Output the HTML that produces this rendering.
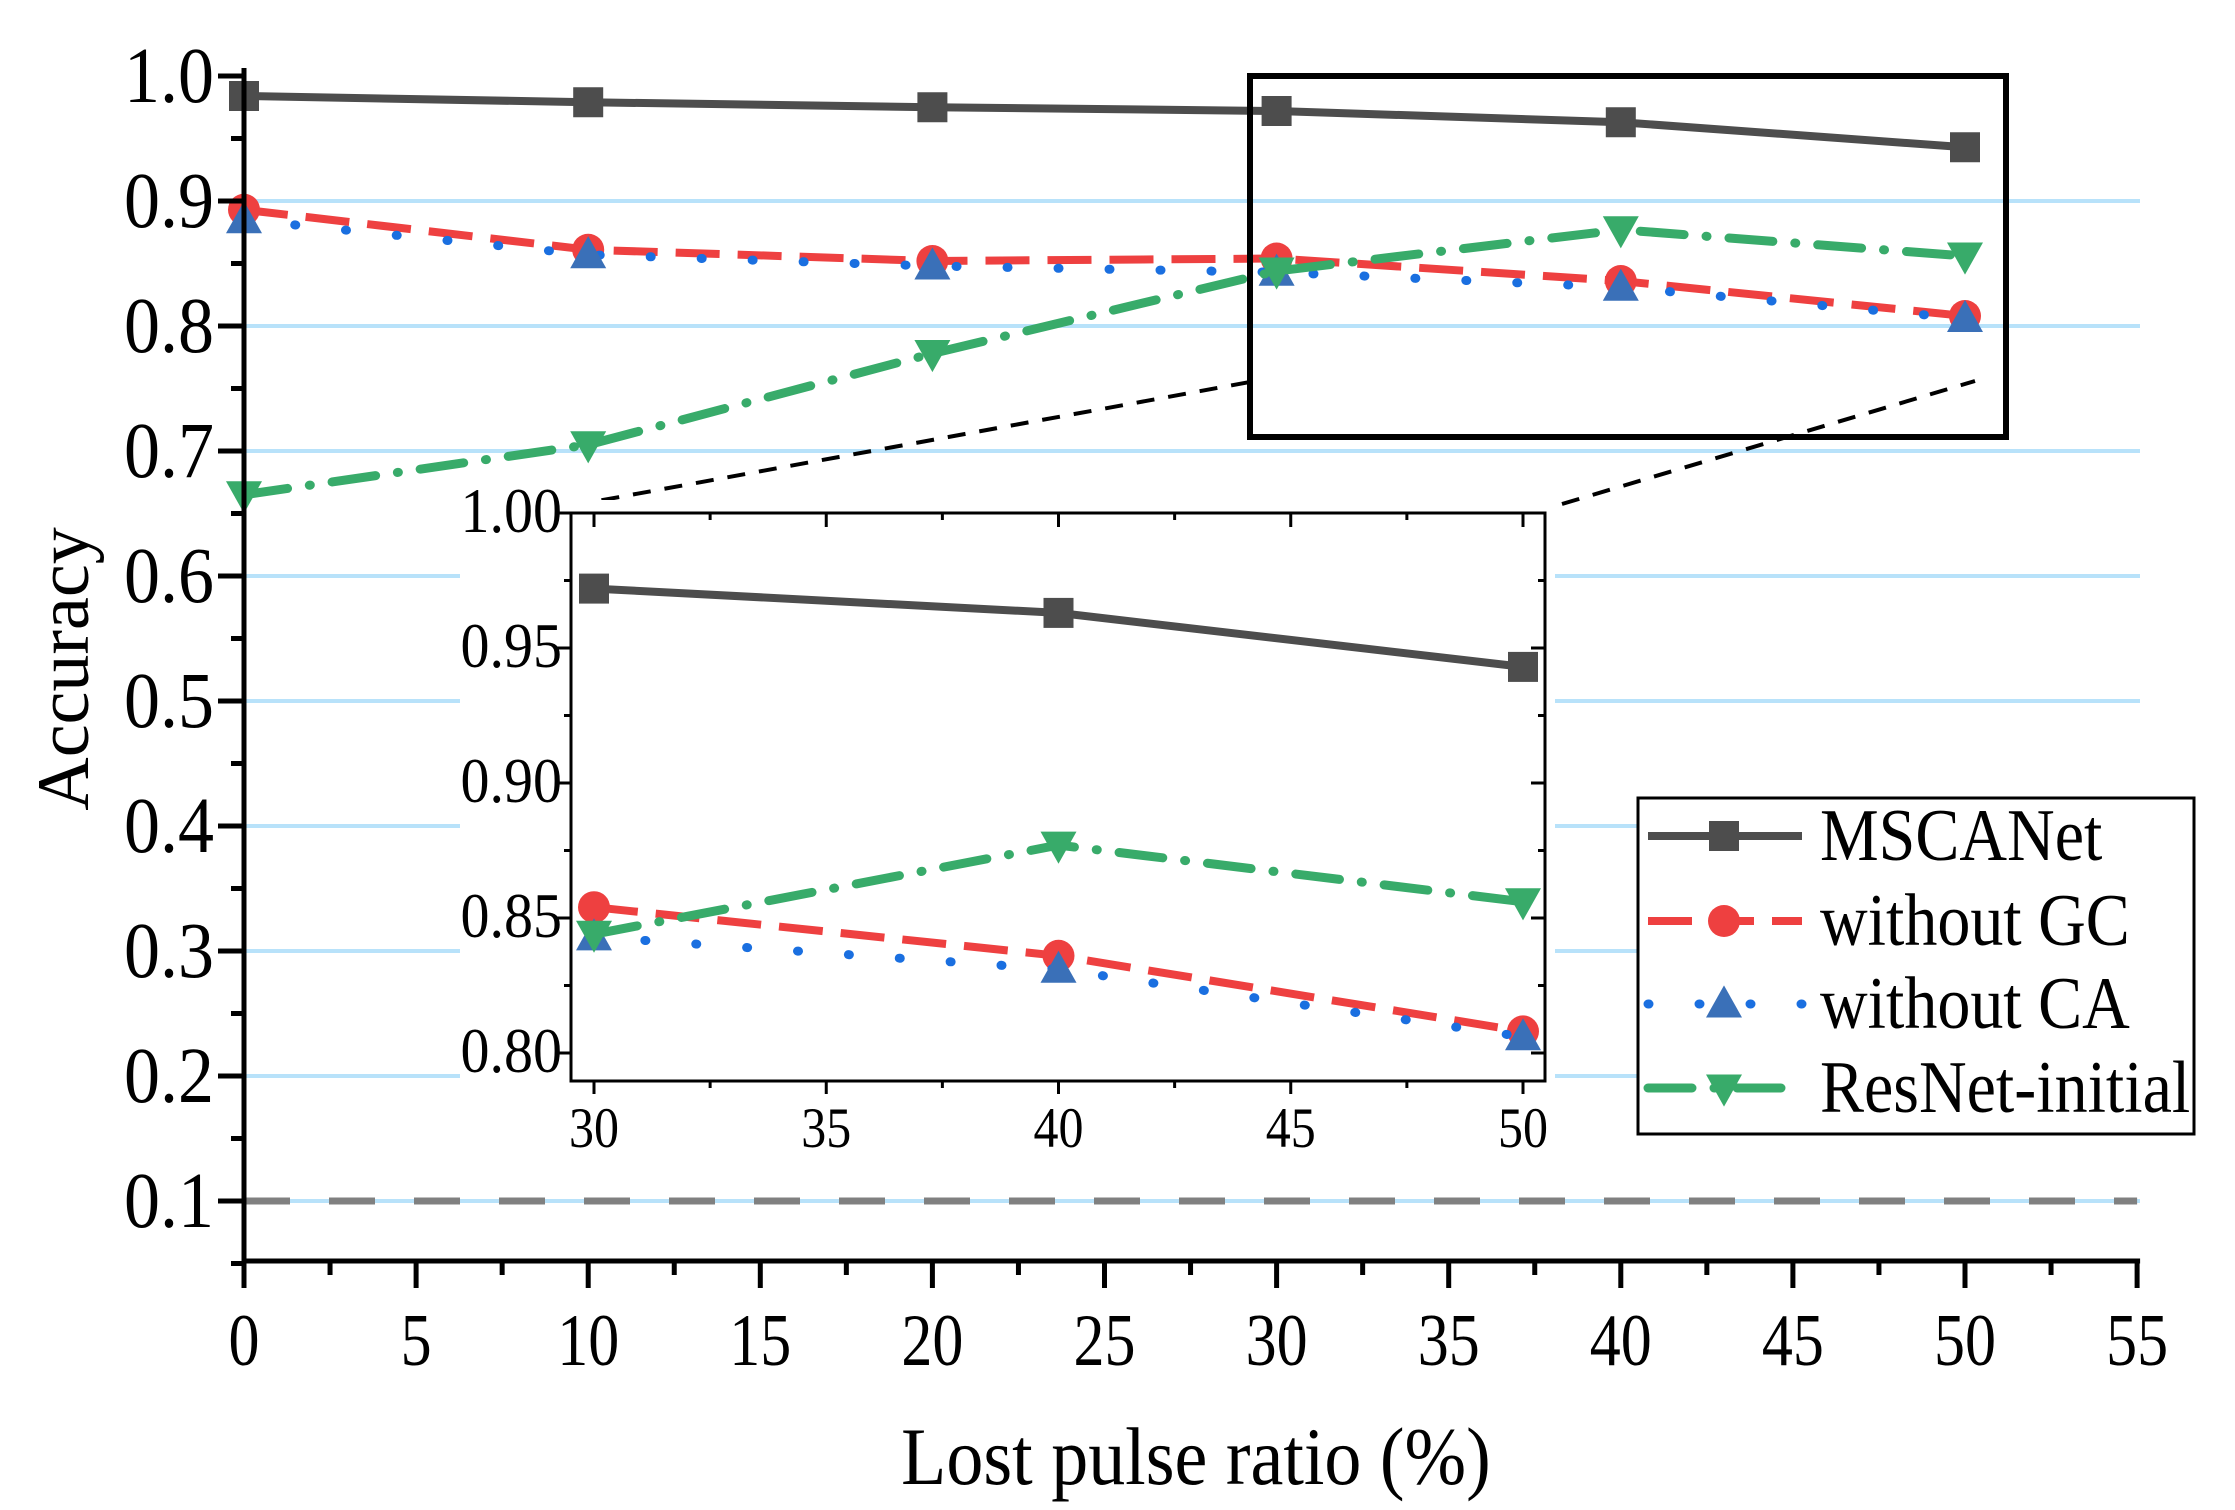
<!DOCTYPE html>
<html><head><meta charset="utf-8"><style>
html,body{margin:0;padding:0;background:#fff}
svg{display:block;font-family:"Liberation Serif",serif}
</style></head><body>
<svg id="chart" width="2235" height="1510" viewBox="0 0 2235 1510" xmlns="http://www.w3.org/2000/svg">
<g id="main-grid"></g><g id="main"></g><g id="inset"></g><g id="legend"></g>
</svg>
<script>
const xCats=[0,10,20,30,40,50];
const mscanet=[0.984,0.979,0.975,0.972,0.963,0.943];
const withoutGC=[0.893,0.861,0.852,0.854,0.836,0.808];
const withoutCA=[0.885,0.857,0.848,0.843,0.831,0.806];
const resnet=[0.665,0.705,0.778,0.844,0.877,0.856];
const xTicks=[0,5,10,15,20,25,30,35,40,45,50,55];
const yTicks=[0.1,0.2,0.3,0.4,0.5,0.6,0.7,0.8,0.9,1.0];
const insetXTicks=[30,35,40,45,50];
const insetYTicks=[0.80,0.85,0.90,0.95,1.00];
const baseline=[0.1];

const NS="http://www.w3.org/2000/svg";
function el(tag,attrs,parent,text){const e=document.createElementNS(NS,tag);for(const k in attrs)e.setAttribute(k,attrs[k]);if(text!==undefined)e.textContent=text;parent.appendChild(e);return e;}
const X=v=>244+(v-0)*34.42;
const Y=v=>76+(1-v)*1250;
const IX=v=>594+(v-30)*46.45;
const IY=v=>513+(1-v)*2700;
function stext(parent,x,y,size,sy,anchor,str){
  return el('text',{x:0,y:0,'text-anchor':anchor,'font-size':size,transform:`translate(${x},${y}) scale(1,${sy})`},parent,str);
}

const grid=document.getElementById('main-grid');
const main=document.getElementById('main');
const inset=document.getElementById('inset');
const leg=document.getElementById('legend');

yTicks.forEach(v=>{ if(v>=1)return;
  const g=el('line',{x1:X(0),x2:2140,y1:Y(v),y2:Y(v),stroke:'#b8e2fa','stroke-width':4},grid);
  
  
});
baseline.forEach(v=>{
  const b=el('line',{x1:X(0),x2:X(55),y1:Y(v),y2:Y(v),stroke:'#808080','stroke-width':7,'stroke-dasharray':'46 39'},main);
  
  
});

const series=[
 {name:'MSCANet',vals:mscanet,color:'#4d4d4d',dash:'',marker:'square',mcolor:'#4d4d4d',cap:'butt'},
 {name:'without GC',vals:withoutGC,color:'#ee4040',dash:'44 18',marker:'circle',mcolor:'#ee4040',cap:'butt'},
 {name:'without CA',vals:withoutCA,color:'#1a6fe0',dash:'1 50',marker:'up',mcolor:'#3a70b8',cap:'round'},
 {name:'ResNet-initial',vals:resnet,color:'#38ab6a',dash:'44 22 1 22',marker:'down',mcolor:'#38ab6a',cap:'round'}
];
function marker(g,type,x,y,c,s){
  let m;
  if(type==='square') m=el('rect',{x:x-s/2,y:y-s/2,width:s,height:s,fill:c},g);
  else if(type==='circle') m=el('circle',{cx:x,cy:y,r:s/2+1,fill:c},g);
  else if(type==='up') m=el('polygon',{points:`${x},${y-s*0.62} ${x-s*0.6},${y+s*0.45} ${x+s*0.6},${y+s*0.45}`,fill:c},g);
  else m=el('polygon',{points:`${x},${y+s*0.62} ${x-s*0.6},${y-s*0.45} ${x+s*0.6},${y-s*0.45}`,fill:c},g);
  return m;
}
function drawSeries(g,xs,xf,yf,filter){
  series.forEach(s=>{
    const pts=[];xs.forEach((x,i)=>{if(filter(x))pts.push([xf(x),yf(s.vals[i])]);});
    const sg=el('g',{},g);
    
    
    const attrs={points:pts.map(p=>p.join(',')).join(' '),fill:'none',stroke:s.color,'stroke-width':s.cap==='round'?9:8,'stroke-linecap':s.cap};
    if(s.dash)attrs['stroke-dasharray']=s.dash;
    el('polyline',attrs,sg);
    pts.forEach(p=>{const m=marker(sg,s.marker,p[0],p[1],s.mcolor,30);
      
      });
  });
}
drawSeries(main,xCats,X,Y,()=>true);

const ax=el('g',{},main);


el('line',{x1:X(0),x2:X(0),y1:68,y2:1263,stroke:'#000','stroke-width':5},ax);
el('line',{x1:X(0)-2,x2:X(55)+3,y1:1261,y2:1261,stroke:'#000','stroke-width':5},ax);
xTicks.forEach((v,i)=>{
  el('line',{x1:X(v),x2:X(v),y1:1261,y2:1288,stroke:'#000','stroke-width':5},ax);
  if(i<xTicks.length-1) el('line',{x1:X(v+2.5),x2:X(v+2.5),y1:1261,y2:1275,stroke:'#000','stroke-width':5},ax);
  const t=stext(ax,X(v),1365,62,1.2,'middle',String(v));
  
  
});
yTicks.forEach(v=>{
  el('line',{x1:X(0)-26,x2:X(0),y1:Y(v),y2:Y(v),stroke:'#000','stroke-width':5},ax);
  el('line',{x1:X(0)-13,x2:X(0),y1:Y(v-0.05),y2:Y(v-0.05),stroke:'#000','stroke-width':5},ax);
  const t=stext(ax,214,Y(v)+26,72,1.1,'end',v.toFixed(1));
  
  
});
const xt=stext(main,1196,1484,74,1.1,'middle','Lost pulse ratio (%)');


const yt=el('text',{x:0,y:0,'text-anchor':'middle','font-size':74,transform:'translate(88,669) rotate(-90)'},main,'Accuracy');



const zb=el('rect',{x:1250,y:76,width:756,height:361,fill:'none',stroke:'#000','stroke-width':6},main);


const c1=el('line',{x1:570,y1:506,x2:1250,y2:382,stroke:'#000','stroke-width':4,'stroke-dasharray':'18 14'},main);


const c2=el('line',{x1:1562,y1:504,x2:1975,y2:381,stroke:'#000','stroke-width':4,'stroke-dasharray':'18 14'},main);





el('rect',{x:460,y:500,width:1095,height:660,fill:'#fff'},inset);
drawSeries(inset,xCats,IX,IY,x=>x>=30);
el('rect',{x:571,y:513,width:974,height:568,fill:'none',stroke:'#000','stroke-width':3},inset);
insetXTicks.forEach((v,i)=>{
  el('line',{x1:IX(v),x2:IX(v),y1:1081,y2:1094,stroke:'#000','stroke-width':3},inset);
  el('line',{x1:IX(v),x2:IX(v),y1:513,y2:527,stroke:'#000','stroke-width':3},inset);
  if(i<insetXTicks.length-1){
    el('line',{x1:IX(v+2.5),x2:IX(v+2.5),y1:1081,y2:1088,stroke:'#000','stroke-width':3},inset);
    el('line',{x1:IX(v+2.5),x2:IX(v+2.5),y1:513,y2:520,stroke:'#000','stroke-width':3},inset);
  }
  const t=stext(inset,IX(v),1147,50,1.15,'middle',String(v));
  
  
});
insetYTicks.forEach((v,i)=>{
  el('line',{x1:557,x2:571,y1:IY(v),y2:IY(v),stroke:'#000','stroke-width':3},inset);
  el('line',{x1:1531,x2:1545,y1:IY(v),y2:IY(v),stroke:'#000','stroke-width':3},inset);
  if(i<insetYTicks.length-1){
    el('line',{x1:564,x2:571,y1:IY(v+0.025),y2:IY(v+0.025),stroke:'#000','stroke-width':3},inset);
    el('line',{x1:1538,x2:1545,y1:IY(v+0.025),y2:IY(v+0.025),stroke:'#000','stroke-width':3},inset);
  }
  const t=stext(inset,562,IY(v)+19,58,1.1,'end',v.toFixed(2));
  
  
});



el('rect',{x:1638,y:798,width:556,height:336,fill:'#fff',stroke:'#000','stroke-width':3},leg);
const rowY=[836,921,1004,1088];
series.forEach((s,i)=>{
  const g=el('g',{},leg);
  
  
  const a={x1:1648,x2:1802,y1:rowY[i],y2:rowY[i],stroke:s.color,'stroke-width':s.cap==='round'?9:8,'stroke-linecap':s.cap};
  if(s.dash)a['stroke-dasharray']=s.dash;
  el('line',a,g);
  marker(g,s.marker,1724,rowY[i],s.mcolor,30);
  stext(g,1820,rowY[i]+24,66,1.12,'start',s.name);
});
</script>
</body></html>
